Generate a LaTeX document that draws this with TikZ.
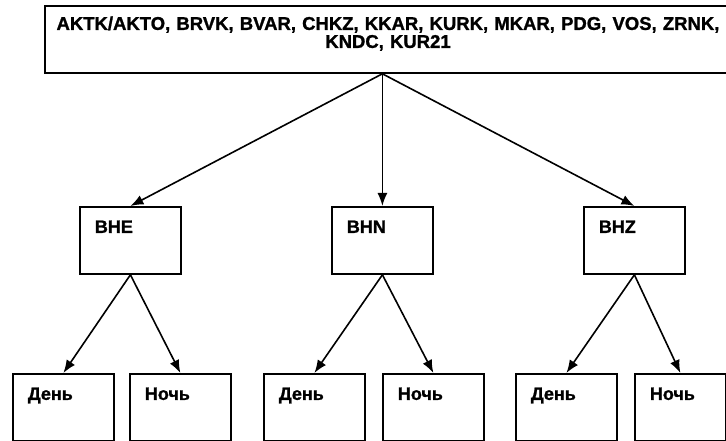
\documentclass[tikz,border=0pt]{standalone}
\usepackage{fontspec}
\setmainfont{Liberation Sans}[BoldFeatures={FakeBold=1.2}]
\usetikzlibrary{arrows.meta}
\begin{document}
\begin{tikzpicture}[x=1pt,y=-1pt,
  stationbox/.style={draw, line width=1.8pt, anchor=north, minimum width=686pt,
    inner xsep=4pt, inner ysep=8pt, text width=678pt, align=center,
    text height=16pt, text depth=35pt, font=\fontsize{18.5}{18}\selectfont\bfseries},
  box/.style={draw, line width=1.8pt, anchor=north west, minimum width=101pt,
    inner xsep=15pt, inner ysep=8pt, text width=71pt, align=left,
    text height=18pt, text depth=33pt, font=\fontsize{18}{20}\selectfont\bfseries},
  narrowbox/.style={box, minimum width=91pt, text width=61pt},
  arr/.style={line width=1.6pt, -{Latex[length=13pt,width=10pt]}}]
\useasboundingbox (0,0) rectangle (726,441);

\node[stationbox] (stations) at (388,5) {AKTK/AKTO, BRVK, BVAR, CHKZ, KKAR, KURK, MKAR, PDG, VOS, ZRNK,\\ KNDC, KUR21};

\node[box] (bhe) at (79,206) {BHE};
\node[box] (bhn) at (331,206) {BHN};
\node[box] (bhz) at (583,206) {BHZ};

\node[box] (den1) at (12,373) {День};
\node[box] (noch1) at (129,373) {Ночь};
\node[box] (den2) at (263,373) {День};
\node[box] (noch2) at (382,373) {Ночь};
\node[box] (den3) at (515,373) {День};
\node[narrowbox] (noch3) at (634,373) {Ночь};

\coordinate (hub) at (stations.south -| bhn.north);
\foreach \b in {bhe,bhn,bhz}
  \draw[arr] (hub) -- (\b.north);

\foreach \p/\c in {bhe/den1,bhe/noch1,bhn/den2,bhn/noch2,bhz/den3,bhz/noch3}
  \draw[arr] (\p.south) -- (\c.north);
\end{tikzpicture}
\end{document}
